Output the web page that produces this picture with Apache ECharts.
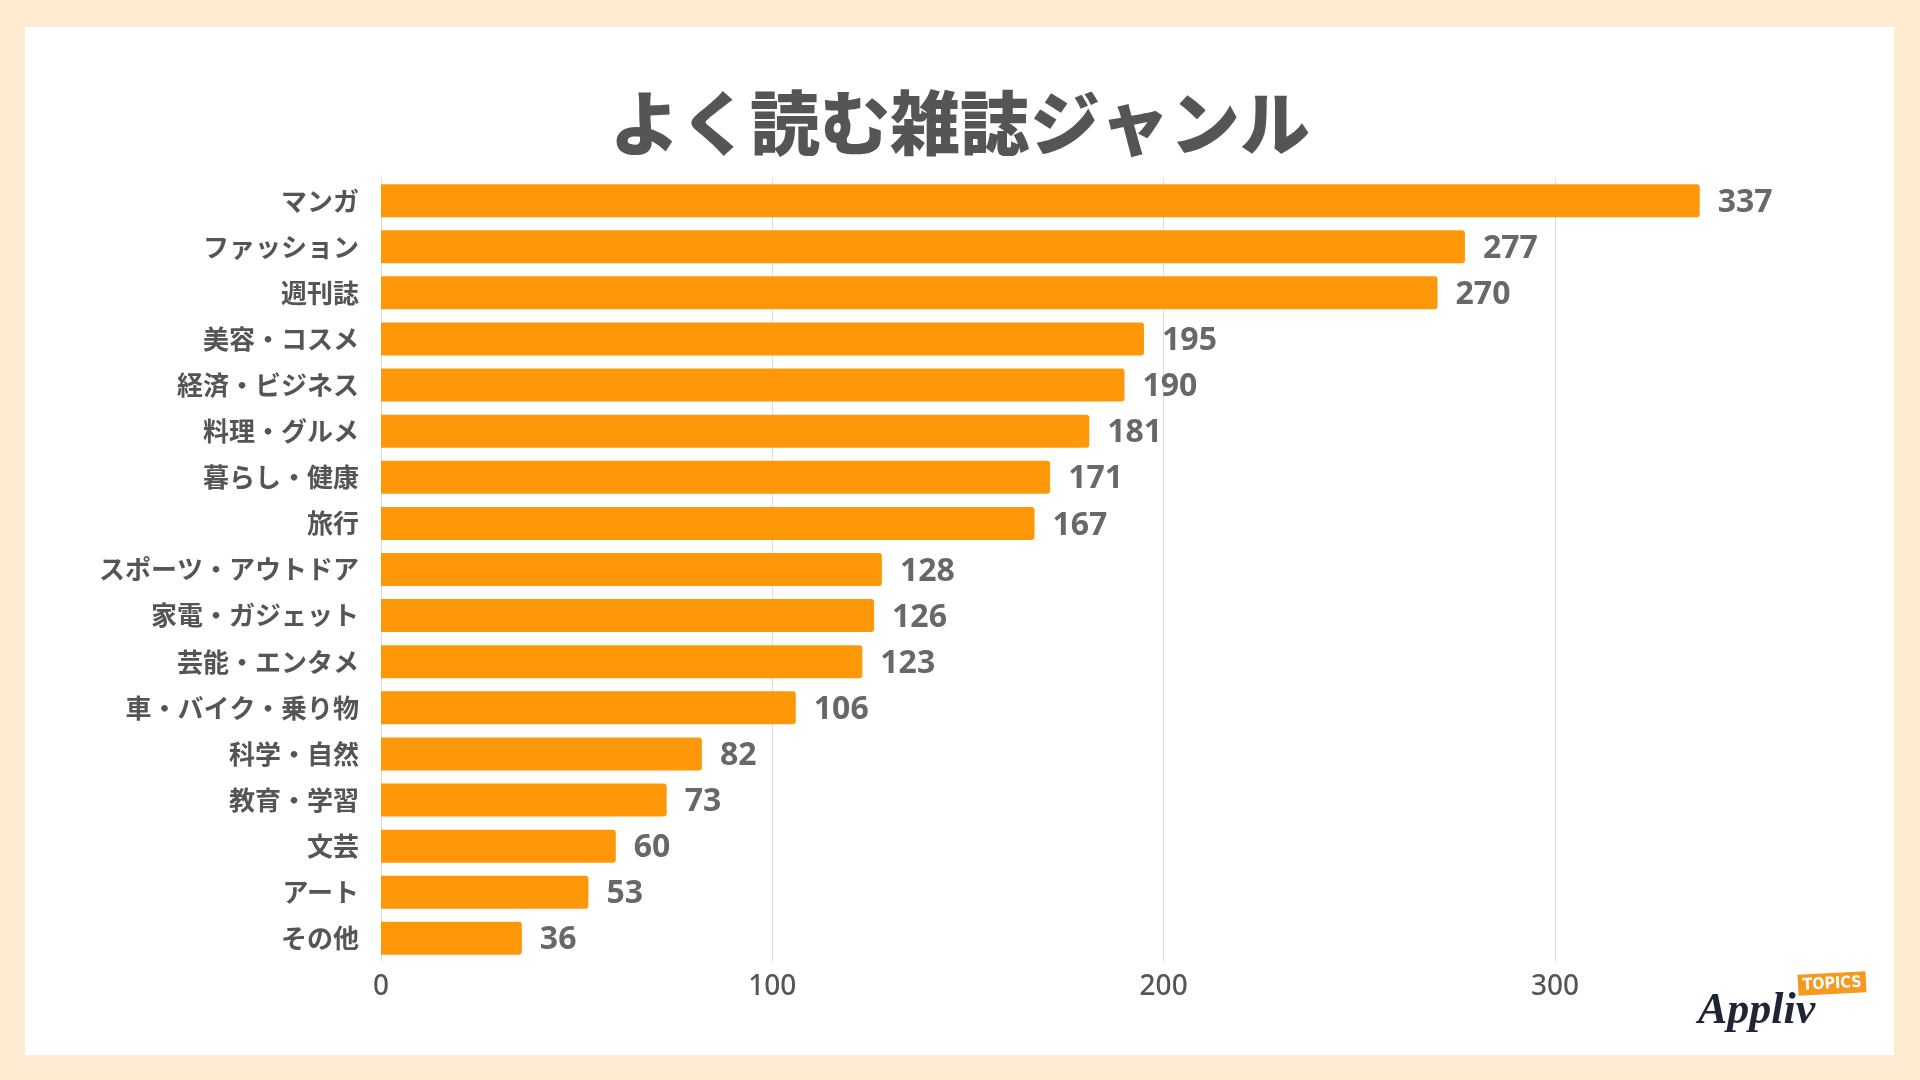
<!DOCTYPE html>
<html>
<head>
<meta charset="utf-8">
<script src="https://cdn.jsdelivr.net/npm/echarts@6/dist/echarts.min.js"></script>
<style>
html,body{margin:0;padding:0;width:1920px;height:1080px;background:#FEEBD2;overflow:hidden;}
#panel{position:absolute;left:25px;top:27px;width:1869px;height:1028px;background:#ffffff;}
#chart{position:absolute;left:0;top:0;width:1920px;height:1080px;}
</style>
</head>
<body>
<div id="panel"></div>
<div id="chart"></div>
<script>
const titleText = 'よく読む雑誌ジャンル';
const categories = ['マンガ','ファッション','週刊誌','美容・コスメ','経済・ビジネス','料理・グルメ','暮らし・健康','旅行','スポーツ・アウトドア','家電・ガジェット','芸能・エンタメ','車・バイク・乗り物','科学・自然','教育・学習','文芸','アート','その他'];
const values = [337,277,270,195,190,181,171,167,128,126,123,106,82,73,60,53,36];
const axisTicks = [0,100,200,300];

const chart = echarts.init(document.getElementById('chart'), null, {renderer:'canvas'});
chart.setOption({
  backgroundColor: 'transparent',
  animation: false,
  title: {
    text: titleText,
    left: 'center',
    top: 78,
    textStyle: {fontFamily:'Noto Sans CJK JP', fontWeight:900, fontSize:70, color:'#555555', lineHeight:80}
  },
  grid: {left:381, top:177.6, width:1369.6, height:783.8, containLabel:false},
  xAxis: {
    type:'value', min:0, max:350, interval:100,
    axisLine:{show:false}, axisTick:{show:false},
    splitLine:{show:true, showMaxLine:false, lineStyle:{color:'#dddddd', width:1}},
    axisLabel:{
      showMaxLabel:false, margin:12,
      fontFamily:'Noto Sans', fontWeight:500, fontSize:28, color:'#555555',
      formatter: v => axisTicks.indexOf(v) >= 0 ? String(v) : ''
    }
  },
  yAxis: {
    type:'category', data:categories, inverse:true,
    axisLine:{show:false}, axisTick:{show:false},
    axisLabel:{margin:22, fontFamily:'Noto Sans CJK JP', fontWeight:'bold', fontSize:26, color:'#555555'}
  },
  series: [{
    type:'bar', data:values, barWidth:33,
    itemStyle:{color:'#FE9808', borderRadius:[0,3,3,0]},
    label:{show:true, position:'right', distance:18, offset:[0,2], fontFamily:'Open Sans', fontWeight:'bold', fontSize:32, color:'#686868'}
  }],
  graphic: [
    {type:'text', style:{text:'Appliv', x:1698, y:1034, verticalAlign:'bottom', font:'italic bold 44px "Liberation Serif"', fill:'#1e2535'}},
    {type:'group', x:1832, y:983, rotation:0.05, children:[
      {type:'rect', shape:{x:-34, y:-10, width:68, height:21}, style:{fill:'#F59A1F'}},
      {type:'text', style:{text:'TOPICS', x:0, y:1, align:'center', verticalAlign:'middle', font:'bold 16px "DejaVu Sans Condensed"', fill:'#ffffff'}}
    ]}
  ]
});
</script>
</body>
</html>
